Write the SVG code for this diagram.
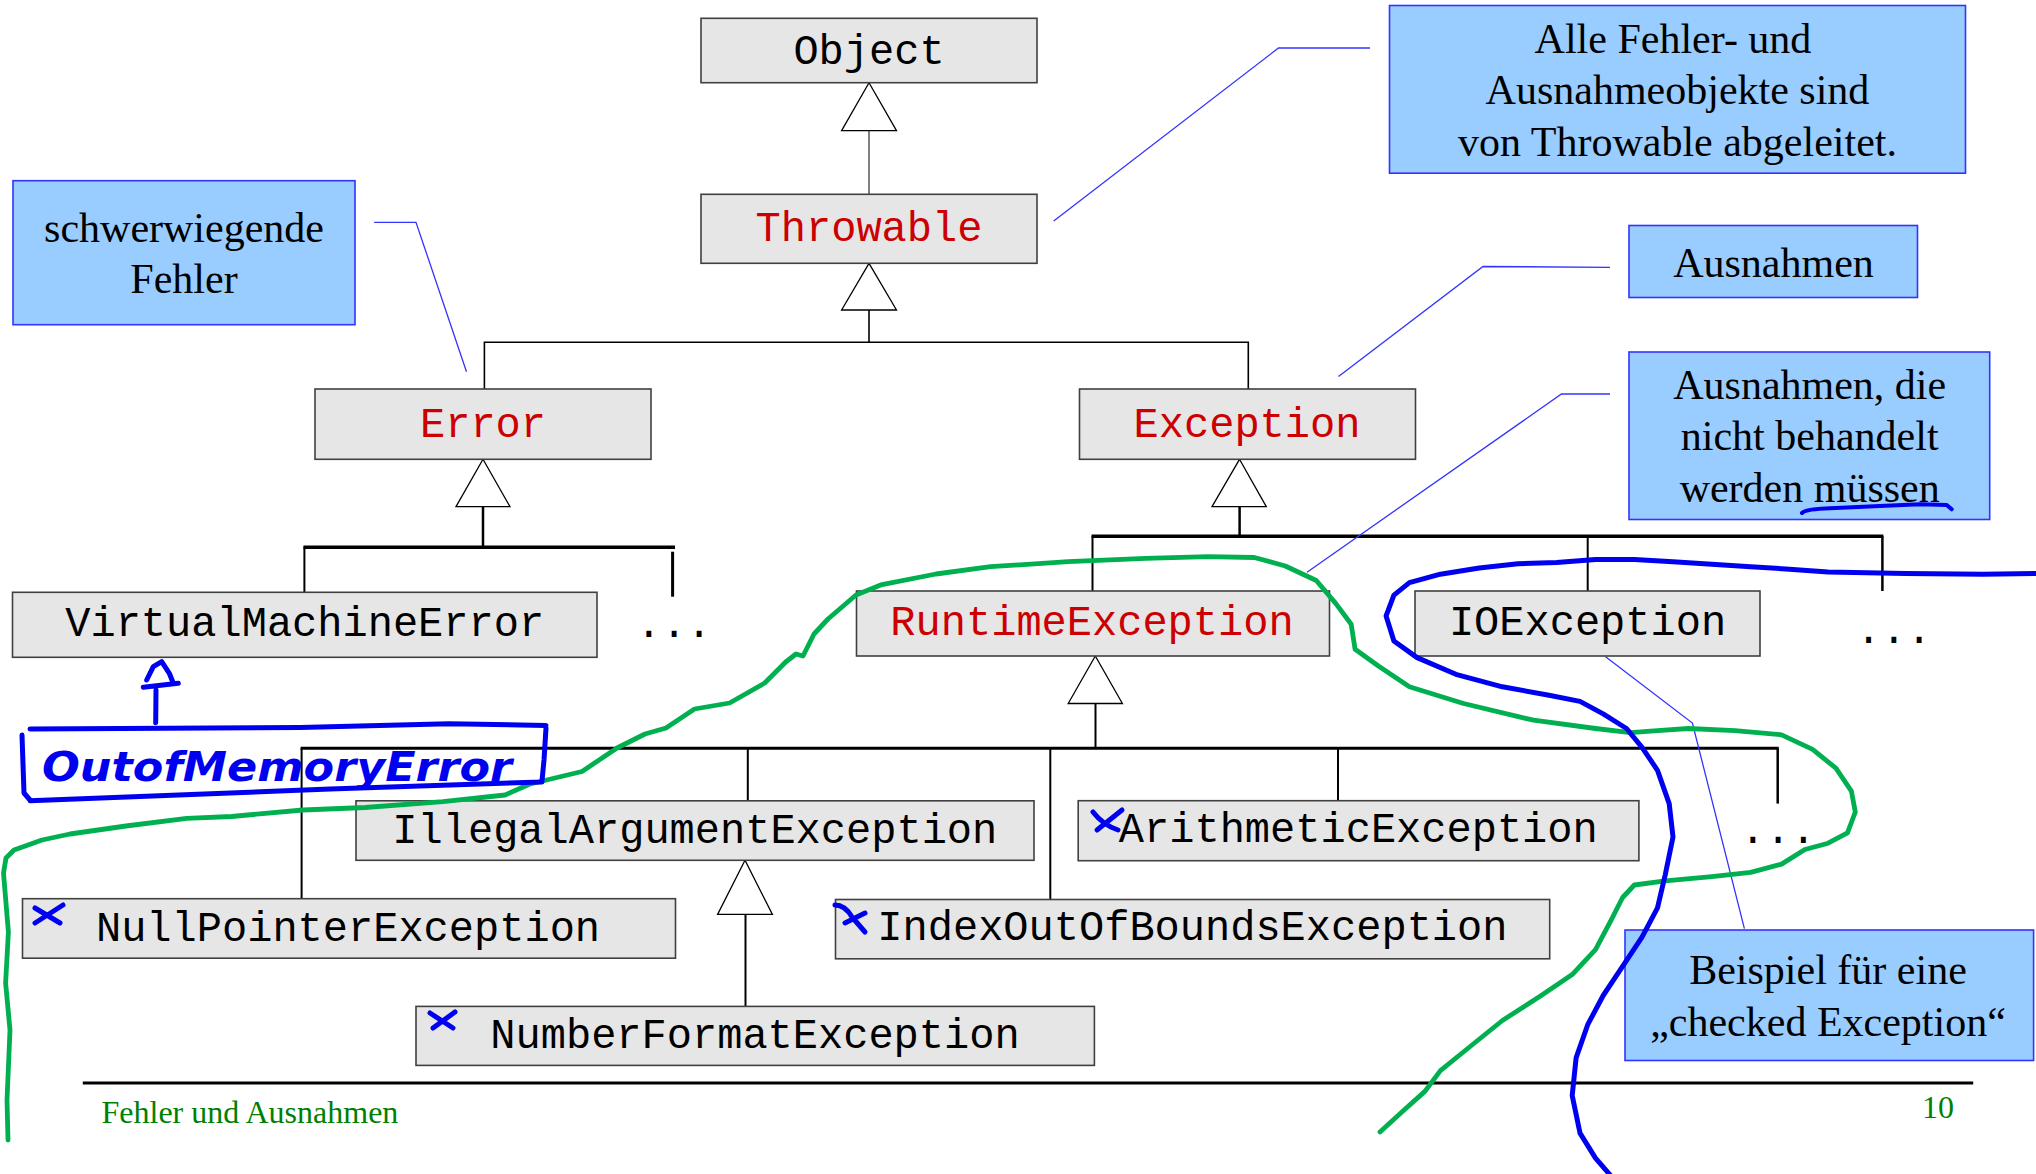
<svg xmlns="http://www.w3.org/2000/svg" width="2036" height="1174" viewBox="0 0 2036 1174">
  <style>
    .cls rect { fill: #e6e6e6; stroke: #404040; stroke-width: 1.6; }
    .cls text { font-family: "Liberation Mono", "Courier New", monospace; font-size: 42px; text-anchor: middle; fill: #000; }
    .cls text.abs { fill: #cc0000; }
    .dots { font-family: "Liberation Mono", "Courier New", monospace; font-size: 42px; fill: #000; }
    .note rect { fill: #99ccff; stroke: #3333ff; stroke-width: 1.6; }
    .note text { font-family: "Liberation Serif", "Times New Roman", serif; font-size: 42px; text-anchor: middle; fill: #000; }
    .gen { fill: #fff; stroke: #000; stroke-width: 1.3; }
    .edge { fill: none; stroke: #000; }
    .lead { fill: none; stroke: #3333ff; stroke-width: 1.3; }
    .footer { font-family: "Liberation Serif", "Times New Roman", serif; font-size: 32px; fill: #008000; }
    .ink { fill: none; stroke-linecap: round; stroke-linejoin: round; }
    .ink-blue { stroke: #0000f0; stroke-width: 5; }
    .ink-green { stroke: #00b050; stroke-width: 4.8; }
  </style>

  <!-- inheritance connectors -->
  <g id="connectors">
    <line class="edge" x1="869" y1="130.7" x2="869" y2="194.3" style="stroke:#808080" stroke-width="2"/>
    <polyline class="edge" stroke-width="1.6" points="869,310 869,342.3"/>
    <polyline class="edge" stroke-width="1.6" points="484.4,389 484.4,342.3 1248.3,342.3 1248.3,389"/>

    <line class="edge" stroke-width="2.5" x1="483" y1="506.7" x2="483" y2="547.3"/>
    <line class="edge" stroke-width="3.5" x1="303.4" y1="547.3" x2="675" y2="547.3"/>
    <line class="edge" stroke-width="2" x1="304.4" y1="547.3" x2="304.4" y2="592.3"/>
    <line class="edge" stroke-width="3" x1="672.6" y1="551.7" x2="672.6" y2="596.7"/>

    <line class="edge" stroke-width="2.5" x1="1239.6" y1="506.7" x2="1239.6" y2="536.3"/>
    <line class="edge" stroke-width="3.5" x1="1091.5" y1="536.3" x2="1883.4" y2="536.3"/>
    <line class="edge" stroke-width="2" x1="1092.5" y1="536.3" x2="1092.5" y2="591"/>
    <line class="edge" stroke-width="2" x1="1587.7" y1="536.3" x2="1587.7" y2="591"/>
    <line class="edge" stroke-width="2.5" x1="1882.4" y1="536.3" x2="1882.4" y2="591"/>

    <line class="edge" stroke-width="2" x1="1095.5" y1="703.5" x2="1095.5" y2="748.2"/>
    <line class="edge" stroke-width="3" x1="300.6" y1="748.2" x2="1778.7" y2="748.2"/>
    <line class="edge" stroke-width="2" x1="301.6" y1="748.2" x2="301.6" y2="898.7"/>
    <line class="edge" stroke-width="2" x1="747.8" y1="748.2" x2="747.8" y2="800.8"/>
    <line class="edge" stroke-width="2" x1="1050.3" y1="748.2" x2="1050.3" y2="899.5"/>
    <line class="edge" stroke-width="2" x1="1338" y1="748.2" x2="1338" y2="800.7"/>
    <line class="edge" stroke-width="2.5" x1="1777.7" y1="748.2" x2="1777.7" y2="803.6"/>

    <line class="edge" stroke-width="2" x1="745.5" y1="914.4" x2="745.5" y2="1006.4"/>

    <!-- generalization heads -->
    <polygon class="gen" points="869,82.7 841.6,130.7 896.5,130.7"/>
    <polygon class="gen" points="869,263.3 841.6,310 896.5,310"/>
    <polygon class="gen" points="483,459.3 456,506.7 510,506.7"/>
    <polygon class="gen" points="1239.5,459.3 1212,506.7 1266.3,506.7"/>
    <polygon class="gen" points="1095.3,656 1068.2,703.5 1122.4,703.5"/>
    <polygon class="gen" points="745,860.3 717.6,914.4 772.4,914.4"/>

    <!-- note leaders -->
    <polyline class="lead" points="1053.7,221 1278.5,48 1370,48"/>
    <polyline class="lead" points="374.2,222.3 416,222.3 466.5,371.7"/>
    <polyline class="lead" points="1610,267.3 1483,266.5 1338.5,376.6"/>
    <polyline class="lead" points="1610,394 1561.5,394 1307,572.2"/>
    <polyline class="lead" points="1605.6,656.8 1692.4,723.1 1744.4,928.7"/>
  </g>

  <!-- classes -->
  <g id="object" class="cls"><rect x="701" y="18.3" width="336" height="64.4"/><text x="869" y="63.5">Object</text></g>
  <g id="throwable" class="cls"><rect x="701" y="194.3" width="336" height="69"/><text class="abs" x="869" y="241">Throwable</text></g>
  <g id="error" class="cls"><rect x="315" y="389" width="336" height="70.3"/><text class="abs" x="483" y="437">Error</text></g>
  <g id="exception" class="cls"><rect x="1079.5" y="389" width="336" height="70.3"/><text class="abs" x="1247" y="437">Exception</text></g>
  <g id="virtualmachineerror" class="cls"><rect x="12.5" y="592.3" width="584.5" height="65"/><text x="304.7" y="636">VirtualMachineError</text></g>
  <g id="runtimeexception" class="cls"><rect x="856.5" y="591" width="473" height="65"/><text class="abs" x="1092" y="635">RuntimeException</text></g>
  <g id="ioexception" class="cls"><rect x="1415" y="591" width="345" height="65"/><text x="1587.5" y="635">IOException</text></g>
  <g id="illegalargumentexception" class="cls"><rect x="356" y="800.8" width="678" height="59.5"/><text x="694.8" y="842.5">IllegalArgumentException</text></g>
  <g id="arithmeticexception" class="cls"><rect x="1078.2" y="800.7" width="560.7" height="60"/><text x="1358.3" y="842.4">ArithmeticException</text></g>
  <g id="nullpointerexception" class="cls"><rect x="22.5" y="898.7" width="653" height="59.5"/><text x="348" y="940.5">NullPointerException</text></g>
  <g id="indexoutofboundsexception" class="cls"><rect x="835.5" y="899.5" width="714.2" height="59.3"/><text x="1192.4" y="940.4">IndexOutOfBoundsException</text></g>
  <g id="numberformatexception" class="cls"><rect x="416" y="1006.4" width="678.4" height="59"/><text x="755" y="1047.5">NumberFormatException</text></g>

  <g id="more-errors"><text class="dots" x="636.2" y="637">...</text></g>
  <g id="more-exceptions"><text class="dots" x="1856" y="643">...</text></g>
  <g id="more-runtime"><text class="dots" x="1740.3" y="843">...</text></g>

  <!-- notes -->
  <g id="note-throwable" class="note">
    <rect x="1389.5" y="5.5" width="576" height="167.7"/>
    <text x="1673" y="53.4">Alle Fehler- und</text>
    <text x="1677.5" y="103.5">Ausnahmeobjekte sind</text>
    <text x="1677.5" y="155.6">von Throwable abgeleitet.</text>
  </g>
  <g id="note-error" class="note">
    <rect x="13" y="180.7" width="342" height="144"/>
    <text x="184" y="241.7">schwerwiegende</text>
    <text x="184" y="293.3">Fehler</text>
  </g>
  <g id="note-exception" class="note">
    <rect x="1629" y="225.5" width="288.5" height="72"/>
    <text x="1773.5" y="277.2">Ausnahmen</text>
  </g>
  <g id="note-runtime" class="note">
    <rect x="1629" y="352" width="360.7" height="167.5"/>
    <text x="1809.7" y="399.4">Ausnahmen, die</text>
    <text x="1809.7" y="450.4">nicht behandelt</text>
    <text x="1809.7" y="501.7">werden müssen</text>
  </g>
  <g id="note-checked" class="note">
    <rect x="1625" y="930" width="408.6" height="130.5"/>
    <text x="1828" y="983.8">Beispiel für eine</text>
    <text x="1828" y="1036.3">„checked Exception“</text>
  </g>

  <!-- slide footer -->
  <g id="footer">
    <line x1="82.8" y1="1083" x2="1973.2" y2="1083" stroke="#000" stroke-width="3"/>
    <text class="footer" x="101.5" y="1122.5">Fehler und Ausnahmen</text>
    <text class="footer" x="1922" y="1118">10</text>
  </g>

  <!-- pen annotations -->
  <g id="annotations">
    <path class="ink ink-green" d="M8,1140 L7,1100 L10,1030 L5.6,983 L8.4,932 L3.5,873 L6,858 L14,850 L42,840 L70,834 L126,826 L186.7,818.3 L231.5,816.5 L303,810 L365,807.5 L443,801.7 L505,795 L530,784 L582,771.5 L617,748 L645,734 L666,728 L694.5,709 L729.6,703 L764.7,683 L785.7,662 L796,654 L803,656 L814,634 L828,619 L856,595 L882,584.6 L936,574 L990.6,566.7 L1068,561.7 L1145.7,558.4 L1207.7,556.7 L1254.3,557.5 L1285.3,566 L1316.3,580.5 L1335.7,603.4 L1351.2,624.3 L1355.1,649.3 L1378.4,666 L1409.4,686.8 L1463.6,703.5 L1533.5,720.2 L1595.5,728.5 L1630.4,732.7 L1657.5,730.6 L1688.5,728.5 L1735,730.6 L1781.6,734.8 L1812.6,749.4 L1835.9,768.2 L1851.4,791.1 L1855.3,812 L1847.5,832.8 L1828.1,843.2 L1804.9,849.5 L1781.6,864.1 L1750.6,872.4 L1711.8,876.6 L1665.3,880.8 L1634.3,885 L1622.6,897.5 L1611,920.4 L1595.5,949.6 L1572.2,974.6 L1541.2,995.5 L1502.4,1020.5 L1471.4,1045.5 L1440.4,1070.6 L1424.9,1091.4 L1401.6,1112.3 L1380,1132"/>
    <path class="ink ink-blue" d="M2036,573.4 L1983.2,574.2 L1905.7,573.4 L1828.1,572.1 L1789.4,569.2 L1750.6,566.7 L1673,561.7 L1634.3,559.6 L1595.5,559.6 L1556.7,562.5 L1518,563.8 L1479.2,568 L1440.4,574.2 L1409.4,582.6 L1393.9,595.1 L1386.1,615.9 L1393.9,641 L1417.1,657.6 L1455.9,674.3 L1502.4,686.8 L1549,695.2 L1580,701.4 L1603.2,713.9 L1626.5,728.5 L1642,747.3 L1657.5,770.3 L1669.2,803.6 L1673,837 L1665.3,874.5 L1657.5,907.9 L1642,937.1 L1622.6,966.3 L1603.2,995.5 L1587.7,1024.7 L1576.1,1057.9 L1572.2,1095.6 L1580,1133.1 L1595.5,1158.1 L1611,1176"/>

    <!-- OutOfMemoryError sketch -->
    <path class="ink ink-blue" d="M30,729 L300,727.5 L449,723.7 L546,725.5 M546,728 L544,760 L542,781 M542,782 L330,789 L30,800.7 M22,735 L24,793 L30,800"/>
    <path class="ink ink-blue" d="M155.7,722.7 L156,690 M146.7,680 L153.3,666.7 L161.7,661.7 L169.3,673.3 L173.3,683.3 M143.3,687.3 L178.3,683.3"/>
    <text x="42" y="781" font-family="DejaVu Sans, sans-serif" font-size="40" font-weight="bold" font-style="italic" fill="#0000f0" textLength="470" lengthAdjust="spacingAndGlyphs">OutofMemoryError</text>

    <!-- crossed-out runtime exceptions -->
    <path class="ink ink-blue" d="M35,908 L60,923 M63,905 L35,923"/>
    <path class="ink ink-blue" d="M430,1013 L453,1028 M455,1012 L433,1028"/>
    <path class="ink ink-blue" d="M835,905 Q845,905 852,917 L865,932 M865,913 L845,923"/>
    <path class="ink ink-blue" d="M1093,812 Q1103,825 1118,830 M1122,810 L1097,830"/>

    <!-- underline below "müssen" -->
    <path class="ink" stroke="#0000f0" stroke-width="4" d="M1802,513 Q1806,509 1830,508.3 L1880,506 L1920,504.3 L1946.7,505 L1951.7,509.3"/>
  </g>
</svg>
